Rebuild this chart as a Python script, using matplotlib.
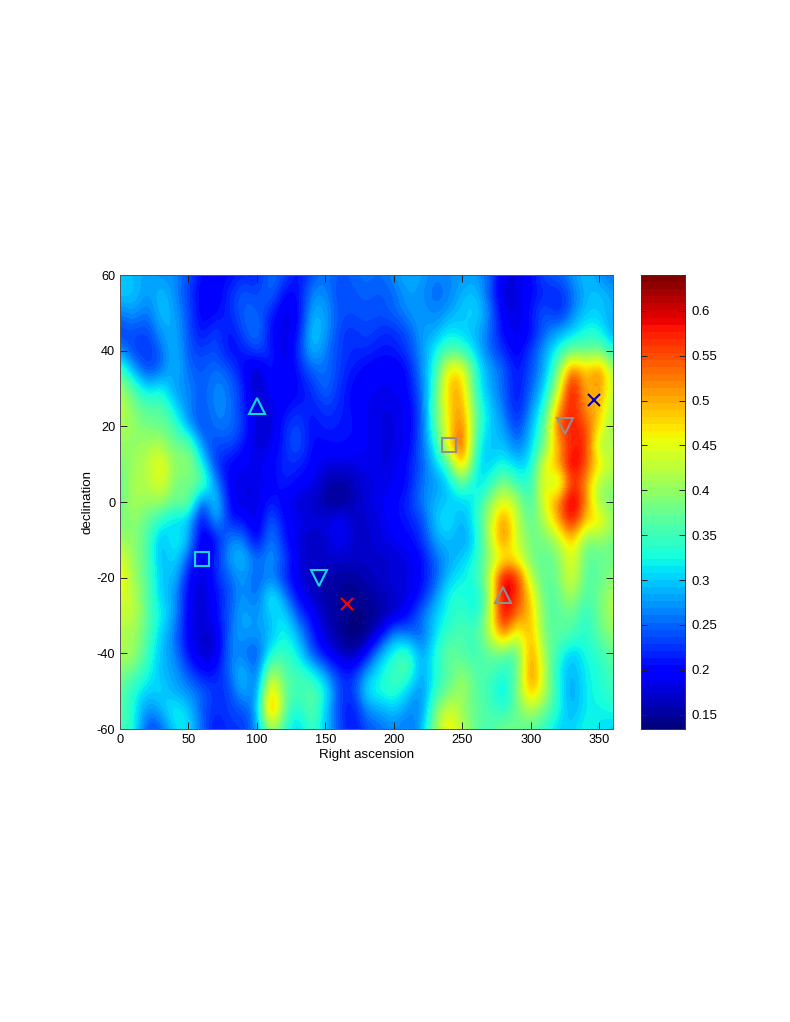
import numpy as np
import matplotlib
matplotlib.use("Agg")
import matplotlib.pyplot as plt
from matplotlib.colors import ListedColormap

plt.rcParams['font.family'] = ['Liberation Sans', 'DejaVu Sans']
plt.rcParams['axes.unicode_minus'] = False

ra_grid = list(range(0, 361, 10))
dec_grid = list(range(60, -61, -5))

d_p60 = [.30,.29,.28,.27,.27,.24,.20,.20,.20,.22,.21,.26,.24,.20,.24,.26,.24,.25,.26, .25,.27,.29,.28,.26,.27,.27,.28,.25,.18,.18,.20,.24,.25,.27,.30,.27,.25]
d_p55 = [.30,.30,.27,.30,.27,.23,.19,.19,.22,.25,.23,.26,.20,.20,.27,.27,.23,.24,.25, .24,.25,.28,.27,.25,.26,.29,.30,.24,.17,.18,.20,.22,.21,.25,.29,.30,.28]
d_p50 = [.26,.28,.25,.30,.28,.24,.19,.20,.22,.25,.25,.22,.18,.19,.29,.28,.24,.24,.24, .24,.25,.27,.28,.26,.28,.30,.31,.27,.18,.18,.21,.25,.21,.26,.30,.30,.28]
d_p45 = [.23,.24,.23,.28,.29,.24,.20,.24,.20,.24,.27,.20,.18,.20,.31,.28,.23,.22,.24, .22,.22,.24,.28,.28,.32,.30,.29,.25,.20,.18,.20,.25,.28,.30,.33,.33,.27]
d_p40 = [.27,.23,.22,.25,.30,.24,.23,.24,.20,.21,.24,.22,.17,.22,.30,.26,.23,.22,.22, .21,.21,.23,.27,.32,.36,.35,.30,.25,.22,.19,.23,.28,.33,.38,.37,.38,.33]
d_p35 = [.36,.28,.23,.25,.30,.25,.24,.26,.24,.20,.16,.22,.18,.21,.25,.26,.23,.21,.20, .19,.19,.20,.27,.33,.48,.47,.33,.28,.25,.20,.24,.28,.38,.55,.47,.54,.40]
d_p30 = [.42,.36,.30,.33,.27,.27,.24,.27,.26,.22,.15,.21,.18,.20,.22,.26,.22,.20,.19, .19,.19,.20,.25,.35,.50,.50,.33,.28,.25,.20,.25,.30,.42,.62,.48,.53,.42]
d_p25 = [.43,.39,.36,.37,.31,.26,.24,.27,.26,.22,.17,.18,.20,.22,.21,.23,.22,.20,.19, .18,.18,.19,.24,.37,.48,.52,.36,.30,.26,.20,.27,.33,.50,.60,.50,.50,.40]
d_p20 = [.42,.40,.38,.38,.36,.28,.23,.26,.26,.23,.17,.17,.22,.24,.20,.22,.21,.21,.19, .18,.18,.19,.24,.36,.47,.55,.36,.30,.28,.22,.29,.36,.56,.58,.56,.47,.40]
d_p15 = [.40,.40,.41,.42,.37,.39,.26,.23,.24,.21,.17,.18,.22,.25,.20,.20,.21,.20,.19, .18,.18,.19,.25,.32,.47,.58,.33,.29,.30,.25,.30,.38,.50,.58,.58,.40,.42]
d_p10 = [.38,.41,.42,.47,.39,.41,.33,.22,.20,.19,.19,.20,.22,.22,.20,.18,.18,.18,.19, .18,.18,.21,.24,.30,.35,.53,.31,.30,.33,.30,.31,.46,.50,.62,.55,.47,.42]
d_p05 = [.37,.42,.41,.46,.38,.38,.38,.27,.19,.18,.18,.19,.22,.20,.19,.16,.15,.16,.18, .18,.19,.20,.26,.27,.30,.38,.30,.33,.40,.34,.33,.48,.38,.58,.52,.40,.40]
d_000 = [.37,.42,.40,.41,.37,.40,.22,.33,.19,.18,.18,.22,.19,.17,.17,.15,.14,.16,.18, .19,.20,.22,.26,.29,.30,.30,.32,.40,.46,.42,.33,.46,.52,.64,.52,.40,.38]
d_m05 = [.38,.40,.37,.33,.30,.30,.18,.30,.21,.21,.17,.26,.20,.19,.18,.18,.20,.17,.17, .18,.20,.21,.23,.30,.32,.28,.33,.42,.54,.42,.36,.42,.50,.60,.48,.48,.40]
d_m10 = [.40,.40,.36,.28,.33,.30,.17,.20,.27,.27,.18,.28,.21,.18,.16,.17,.20,.17,.17, .18,.19,.20,.22,.28,.30,.27,.31,.42,.54,.43,.38,.38,.42,.50,.38,.40,.38]
d_m15 = [.45,.40,.36,.28,.32,.24,.17,.22,.28,.30,.25,.28,.24,.18,.17,.17,.17,.17,.17, .17,.17,.18,.20,.25,.28,.30,.33,.40,.46,.46,.38,.37,.38,.47,.36,.37,.38]
d_m20 = [.48,.40,.37,.29,.30,.20,.17,.22,.25,.28,.24,.27,.22,.18,.16,.16,.15,.15,.16, .17,.18,.18,.20,.24,.30,.32,.34,.42,.62,.58,.42,.36,.38,.46,.36,.37,.40]
d_m25 = [.44,.43,.36,.30,.28,.19,.17,.20,.24,.28,.24,.34,.27,.20,.17,.15,.15,.14,.15, .16,.17,.18,.21,.27,.33,.34,.30,.40,.62,.56,.48,.36,.37,.42,.35,.38,.42]
d_m30 = [.43,.43,.37,.32,.28,.19,.17,.20,.25,.29,.27,.30,.32,.24,.20,.16,.15,.14,.14, .15,.17,.20,.26,.30,.33,.35,.32,.42,.62,.52,.50,.37,.36,.38,.33,.38,.42]
d_m35 = [.41,.41,.36,.30,.26,.19,.17,.17,.26,.28,.27,.29,.33,.29,.22,.17,.15,.13,.14, .19,.28,.26,.24,.31,.35,.36,.35,.42,.54,.42,.52,.37,.37,.36,.33,.37,.40]
d_m40 = [.42,.41,.35,.29,.27,.20,.17,.17,.27,.26,.23,.33,.35,.32,.24,.20,.17,.15,.20, .29,.33,.36,.27,.33,.38,.36,.34,.38,.37,.35,.54,.40,.34,.29,.33,.34,.38]
d_m45 = [.39,.37,.33,.29,.28,.24,.20,.21,.25,.31,.23,.43,.36,.35,.33,.27,.22,.21,.28, .32,.35,.37,.27,.33,.36,.40,.36,.36,.33,.36,.55,.42,.32,.28,.32,.33,.36]
d_m50 = [.37,.33,.30,.31,.28,.27,.25,.22,.23,.30,.24,.52,.37,.35,.37,.33,.23,.22,.32, .33,.35,.30,.26,.34,.38,.42,.36,.35,.30,.38,.52,.42,.33,.27,.32,.33,.35]
d_m55 = [.37,.33,.26,.29,.33,.30,.24,.22,.23,.24,.27,.56,.37,.32,.38,.30,.23,.20,.27, .28,.30,.27,.26,.38,.45,.40,.37,.36,.33,.38,.42,.38,.33,.28,.32,.32,.33]
d_m60 = [.36,.33,.23,.24,.31,.32,.25,.20,.23,.22,.27,.42,.34,.29,.36,.30,.24,.20,.24, .25,.27,.25,.28,.40,.48,.42,.37,.35,.39,.37,.37,.34,.30,.30,.33,.31,.30]

x_ticks = [0, 50, 100, 150, 200, 250, 300, 350]
y_ticks = [-60, -40, -20, 0, 20, 40, 60]
cbar_ticks = [0.15, 0.2, 0.25, 0.3, 0.35, 0.4, 0.45, 0.5, 0.55, 0.6]
cbar_labels = ['0.15', '0.2', '0.25', '0.3', '0.35', '0.4', '0.45', '0.5', '0.55', '0.6']
value_min, value_max = 0.134, 0.640

sources = [
    (100, 25, '^', '#12d8e8'), (60, -15, 's', '#12d8e8'), (145, -20, 'v', '#12d8e8'),
    (166, -27, 'x', '#ff0000'),
    (280, -25, '^', '#909090'), (240, 15, 's', '#909090'), (325, 20, 'v', '#909090'),
    (346, 27, 'x', '#0000c8'),
]

grid = np.array([d_p60, d_p55, d_p50, d_p45, d_p40, d_p35, d_p30, d_p25, d_p20, d_p15, d_p10, d_p05, d_000,
                 d_m05, d_m10, d_m15, d_m20, d_m25, d_m30, d_m35, d_m40, d_m45, d_m50, d_m55, d_m60])

W, H = 790, 1022
fig = plt.figure(figsize=(W / 100, H / 100), dpi=100)
ax = fig.add_axes([120 / W, 1 - 729 / H, 493 / W, 454 / H])
jet64 = ListedColormap(plt.get_cmap('jet')(np.linspace(0, 1, 64)))
ax.imshow(grid, cmap=jet64, vmin=value_min, vmax=value_max, aspect='auto',
          interpolation='bicubic', origin='upper',
          extent=[ra_grid[0] - 5, ra_grid[-1] + 5, dec_grid[-1] - 2.5, dec_grid[0] + 2.5])
ax.set_xlim(0, 360)
ax.set_ylim(-60, 60)
ax.set_xticks(x_ticks)
ax.set_yticks(y_ticks)
ax.tick_params(direction='in', length=5, width=0.7, top=True, right=True, labelsize=9.2, pad=3.5, color='#222222')
ax.set_xlabel('Right ascension', fontsize=9.6, labelpad=2.5)
ax.set_ylabel('declination', fontsize=9.6, labelpad=2.5)
for s in ax.spines.values():
    s.set_linewidth(0.7)
    s.set_color('#555555')
for x, y, m, c in sources:
    size = {'x': 8, 's': 10}.get(m, 12)
    ax.plot([x], [y + (0.4 if m == '^' else 0)], linestyle='none', marker=m, markersize=size,
            markerfacecolor='none', markeredgecolor=c, markeredgewidth=1.5, clip_on=False)

cax = fig.add_axes([641 / W, 1 - 729 / H, 44 / W, 454 / H])
levels = np.linspace(value_min, value_max, 65)
cax.imshow(((levels[:-1] + levels[1:]) / 2)[::-1, None], cmap=jet64, vmin=value_min, vmax=value_max,
           aspect='auto', interpolation='nearest',
           extent=[0, 1, value_min, value_max])
cax.set_xticks([])
cax.yaxis.tick_right()
cax.set_yticks(cbar_ticks)
cax.set_yticklabels(cbar_labels)
cax.tick_params(direction='in', length=4, width=0.7, left=True, right=True, labelsize=9.5, pad=5, color='#222222')
for s in cax.spines.values():
    s.set_linewidth(0.7)
    s.set_color('#333333')

fig.savefig('out.png', dpi=100)
